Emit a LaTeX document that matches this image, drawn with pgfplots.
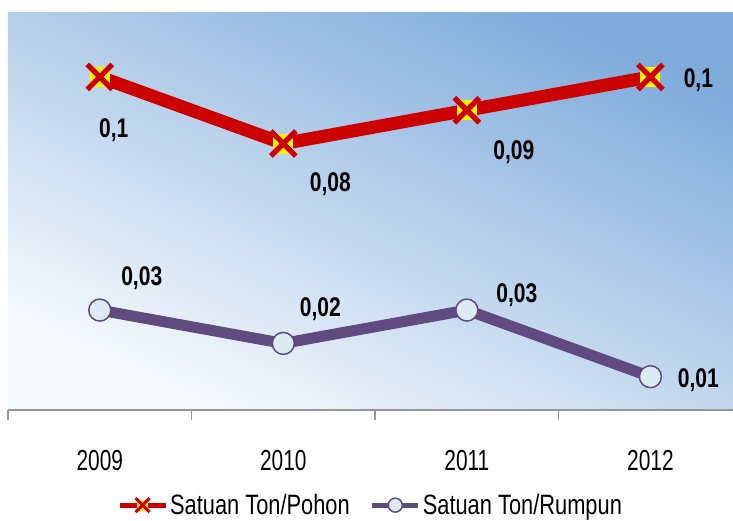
\documentclass[border=0pt]{standalone}
\usepackage{pgfplots}
\pgfplotsset{compat=1.18}
\usepackage{pgfplotstable}
\usepackage{fontspec}
\setmainfont{Liberation Sans}[FakeStretch=0.78]
\newfontfamily\tickf{Liberation Sans}[FakeStretch=0.72]
\definecolor{redline}{RGB}{204,0,0}
\definecolor{purpline}{RGB}{96,74,128}
\definecolor{circfill}{RGB}{220,236,242}
\definecolor{skytop}{RGB}{128,172,220}
\definecolor{skymid}{RGB}{182,211,236}
\definecolor{skybot}{RGB}{247,250,253}
\definecolor{axgray}{RGB}{150,150,150}

\pgfdeclareplotmark{yx}{%
  \pgfsetfillcolor{yellow}%
  \pgfpathrectangle{\pgfpoint{-0.8\pgfplotmarksize}{-0.8\pgfplotmarksize}}{\pgfpoint{1.6\pgfplotmarksize}{1.6\pgfplotmarksize}}%
  \pgfusepathqfill
  \pgfsetstrokecolor{redline}%
  \pgfsetlinewidth{0.42\pgfplotmarksize}%
  \pgfsetbuttcap
  \pgfpathmoveto{\pgfpoint{-\pgfplotmarksize}{-\pgfplotmarksize}}%
  \pgfpathlineto{\pgfpoint{\pgfplotmarksize}{\pgfplotmarksize}}%
  \pgfpathmoveto{\pgfpoint{-\pgfplotmarksize}{\pgfplotmarksize}}%
  \pgfpathlineto{\pgfpoint{\pgfplotmarksize}{-\pgfplotmarksize}}%
  \pgfusepathqstroke
}

\pgfplotstableread{
x y dx dy lab
1 0.10 14 -53 0,1
2 0.08 47 -41 0,08
3 0.09 47 -42 0,09
4 0.10 48 -3 0,1
}\pohon
\pgfplotstableread{
x y dx dy lab
1 0.03 42 32 0,03
2 0.02 37 34 0,02
3 0.03 50 15 0,03
4 0.01 48 -3 0,01
}\rumpun

\begin{document}
\begin{tikzpicture}
\begin{axis}[
  name=ax,
  scale only axis,
  width=725pt, height=398pt,
  xmin=0.5, xmax=4.45, ymin=0, ymax=0.1195,
  clip=false,
  axis x line=bottom, axis y line=none,
  x axis line style={-, draw=axgray, line width=2pt},
  xtick={1,2,3,4},
  xticklabels={2009,2010,2011,2012},
  major tick length=0pt,
  extra x ticks={0.5,1.5,2.5,3.5},
  extra x tick labels={},
  extra x tick style={major tick length=10pt, tick align=outside, tick style={draw=axgray, line width=1.5pt}},
  xticklabel style={font=\tickf\fontsize{29}{32}\selectfont, yshift=-37pt},
  axis background/.style={top color=skytop, middle color=skymid, bottom color=skybot, shading angle=-25},
  legend columns=2,
  legend style={at={(axis description cs:0.5,-0.239)}, anchor=center, draw=none, fill=none,
    font=\fontsize{28}{32}\selectfont, /tikz/every even column/.append style={column sep=18pt}},
  legend image code/.code={\draw[#1, line width=5pt, mark size=7pt, mark repeat=2, mark phase=2] plot coordinates {(0pt,0pt) (23pt,0pt) (46pt,0pt)};},
  point meta=explicit symbolic,
  nodes near coords,
  visualization depends on={\thisrow{dx} \as \dx},
  visualization depends on={\thisrow{dy} \as \dy},
  every node near coord/.append style={anchor=center, xshift=\dx pt, yshift=\dy pt, text=black,
    font=\bfseries\fontsize{27}{30}\selectfont},
]
\addplot[color=redline, line width=13pt, mark=yx, mark size=12.5pt] table[x=x, y=y, meta=lab] {\pohon};
\addlegendentry{Satuan Ton/Pohon}
\addplot[color=purpline, line width=11pt, mark=*, mark size=11pt, mark options={fill=circfill, draw=purpline, line width=1.5pt}] table[x=x, y=y, meta=lab] {\rumpun};
\addlegendentry{Satuan Ton/Rumpun}
\end{axis}
\pgfresetboundingbox
\path ([xshift=-8pt,yshift=-110pt]ax.south west) rectangle ([yshift=12pt]ax.north east);
\end{tikzpicture}
\end{document}
